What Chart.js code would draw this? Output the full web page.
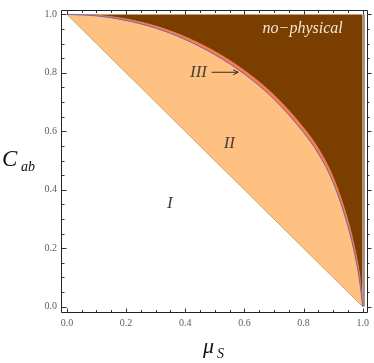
<!DOCTYPE html>
<html>
<head>
<meta charset="utf-8">
<script src="https://cdn.jsdelivr.net/npm/chart.js@4/dist/chart.umd.min.js"></script>
<style>
  body { margin: 0; background: #fff; }
  #wrap { width: 374px; height: 363px; }
</style>
</head>
<body>
<div id="wrap"><canvas id="chart" width="374" height="363"></canvas></div>
<script>
// mu_S values and the region boundaries
const mu = [0, 0.1, 0.2, 0.3, 0.4, 0.5, 0.6, 0.7, 0.8, 0.85, 0.9, 0.95, 0.975, 0.99, 1.0];
const ceiling = [1, 1, 1, 1, 1, 1, 1, 1, 1, 1, 1, 1, 1, 1, 1];
const boundIII = [1.0, 0.997, 0.984, 0.96, 0.923, 0.873, 0.808, 0.724, 0.612, 0.541, 0.443, 0.295, 0.19, 0.105, 0.0];
const boundII = [1.0, 0.995, 0.979, 0.953, 0.914, 0.862, 0.796, 0.71, 0.596, 0.524, 0.425, 0.275, 0.17, 0.085, 0.0];
const boundI = [1.0, 0.9, 0.8, 0.7, 0.6, 0.5, 0.4, 0.3, 0.2, 0.15, 0.1, 0.05, 0.025, 0.01, 0.0];
const tickLabels = ['0.0', '0.2', '0.4', '0.6', '0.8', '1.0'];

const pts = ys => mu.map((m, i) => ({ x: m, y: ys[i] }));

const isMajor = v => Math.abs(v * 5 - Math.round(v * 5)) < 1e-6;
const fmt = v => {
  if (!isMajor(v) || v < -1e-6 || v > 1 + 1e-6) return '';
  return tickLabels[Math.round(v * 5)];
};

const frame = {
  id: 'frame',
  afterDraw(chart) {
    const { ctx, chartArea: a, scales: { x, y } } = chart;
    ctx.save();
    ctx.strokeStyle = '#222';
    ctx.lineWidth = 1;
    const L = Math.round(a.left) + 0.5, R = Math.round(a.right) - 0.5;
    const T = Math.round(a.top) + 0.5, B = Math.round(a.bottom) - 0.5;
    ctx.beginPath();
    ctx.moveTo(L, T); ctx.lineTo(R, T); ctx.lineTo(R, B); ctx.lineTo(L, B); ctx.closePath();
    ctx.stroke();
    ctx.strokeStyle = '#333';
    ctx.beginPath();
    x.ticks.forEach(t => {
      if (t.value < -1e-6 || t.value > 1 + 1e-6) return;
      const px = Math.round(x.getPixelForValue(t.value)) + 0.5;
      const len = isMajor(t.value) ? 4 : 2.5;
      ctx.moveTo(px, B); ctx.lineTo(px, B - len);
      ctx.moveTo(px, T); ctx.lineTo(px, T + len);
    });
    y.ticks.forEach(t => {
      if (t.value < -1e-6 || t.value > 1 + 1e-6) return;
      const py = Math.round(y.getPixelForValue(t.value)) + 0.5;
      const len = isMajor(t.value) ? 5 : 3;
      ctx.moveTo(L, py); ctx.lineTo(L + len, py);
      ctx.moveTo(R, py); ctx.lineTo(R + len - 1, py);
    });
    ctx.stroke();

    // region labels
    const at = (vx, vy) => [x.getPixelForValue(vx), y.getPixelForValue(vy)];
    ctx.textAlign = 'center';
    ctx.textBaseline = 'middle';
    ctx.fillStyle = '#f3e6d6';
    ctx.font = 'italic 16px "Liberation Serif"';
    let p = at(0.797, 0.95);
    ctx.fillText('no\u2212physical', p[0], p[1]);
    ctx.fillStyle = '#4a4036';
    ctx.font = 'italic 17px "Liberation Serif"';
    p = at(0.445, 0.80); ctx.fillText('III', p[0], p[1]);
    p = at(0.549, 0.557); ctx.fillText('II', p[0], p[1]);
    p = at(0.348, 0.353); ctx.fillText('I', p[0], p[1]);

    // arrow to region III
    const a0 = at(0.489, 0.802), a1 = at(0.579, 0.802);
    ctx.strokeStyle = '#3a2a1a';
    ctx.beginPath();
    ctx.moveTo(a0[0], a0[1]); ctx.lineTo(a1[0], a1[1]);
    ctx.moveTo(a1[0] - 5, a1[1] - 2.5); ctx.lineTo(a1[0], a1[1]); ctx.lineTo(a1[0] - 5, a1[1] + 2.5);
    ctx.stroke();

    // axis titles
    ctx.fillStyle = '#111';
    ctx.textAlign = 'left';
    ctx.textBaseline = 'alphabetic';
    ctx.font = 'italic 23px "Liberation Serif"';
    ctx.fillText('C', 2, 166);
    ctx.font = 'italic 14px "Liberation Serif"';
    ctx.fillText('ab', 21, 171);
    ctx.font = 'italic 22px "Liberation Serif"';
    ctx.fillText('\u03bc', 203, 353);
    ctx.font = 'italic 14px "Liberation Serif"';
    ctx.fillText('S', 217, 358);
    ctx.restore();
  }
};

const tickFont = { family: 'Liberation Serif', size: 10 };

new Chart(document.getElementById('chart').getContext('2d'), {
  type: 'scatter',
  data: {
    datasets: [
      { data: pts(ceiling), showLine: true, fill: 'origin', backgroundColor: '#7a3e00',
        borderColor: '#7a3e00', borderWidth: 0, pointRadius: 0, order: 5 },
      { data: pts(boundIII), showLine: true, fill: 'origin', backgroundColor: '#f97c4c',
        borderColor: '#f97c4c', borderWidth: 1, pointRadius: 0, cubicInterpolationMode: 'monotone', order: 4 },
      { data: pts(boundII), showLine: true, fill: 'origin', backgroundColor: '#ffc181',
        borderColor: '#6a64b4', borderWidth: 1, pointRadius: 0, cubicInterpolationMode: 'monotone', order: 3 },
      { data: pts(boundI), showLine: true, fill: 'start', backgroundColor: '#ffffff',
        borderColor: '#d4a464', borderWidth: 1, pointRadius: 0, order: 2 },
      { data: [{ x: 1.004, y: 0 }, { x: 1.004, y: 1 }], showLine: true, borderColor: '#a8887a',
        borderWidth: 2, pointRadius: 0, order: 1 }
    ]
  },
  options: {
    responsive: false,
    animation: false,
    layout: { padding: { top: 1, right: 3, left: 0, bottom: 0 } },
    plugins: { legend: { display: false }, tooltip: { enabled: false } },
    scales: {
      x: {
        type: 'linear', min: -0.02, max: 1.017,
        grid: { display: false, drawTicks: false },
        border: { display: false },
        ticks: { stepSize: 0.05, includeBounds: false, autoSkip: false, maxRotation: 0,
          padding: 5, color: '#56606e', font: tickFont, callback: fmt },
        afterFit(s) { s.height = 50.5; }
      },
      y: {
        type: 'linear', min: -0.02, max: 1.015,
        grid: { display: false, drawTicks: false },
        border: { display: false },
        ticks: { stepSize: 0.05, includeBounds: false, autoSkip: false,
          padding: 4, color: '#56606e', font: tickFont, callback: fmt },
        afterFit(s) { s.width = 61; }
      }
    }
  },
  plugins: [frame]
});
</script>
</body>
</html>
